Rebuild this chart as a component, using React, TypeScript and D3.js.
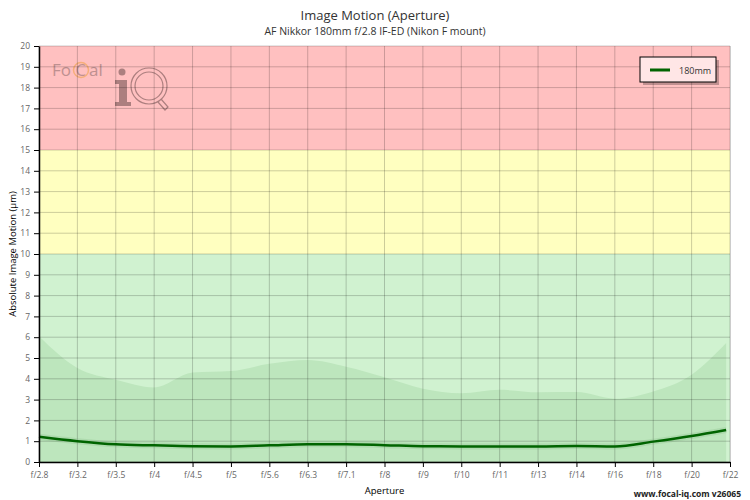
import React, { useEffect, useRef } from "react";
import * as d3 from "d3";

// tick labels along the aperture axis
const apertures = [
  "f/2.8", "f/3.2", "f/3.5", "f/4", "f/4.5", "f/5", "f/5.6", "f/6.3", "f/7.1",
  "f/8", "f/9", "f/10", "f/11", "f/13", "f/14", "f/16", "f/18", "f/20", "f/22",
];

// sample positions (aperture index) for the measured series
const samplePos = [0, 1, 2, 3, 4, 5, 6, 7, 8, 9, 10, 11, 12, 13, 14, 15, 16, 17, 17.9];

// image motion for the 180mm lens (µm)
const motion180 = [
  1.21, 1.0, 0.85, 0.8, 0.76, 0.75, 0.8, 0.85, 0.85,
  0.81, 0.76, 0.75, 0.75, 0.75, 0.77, 0.75, 0.98, 1.25, 1.54,
];

// upper envelope of comparable lenses (µm)
const envelope = [
  6.05, 4.52, 3.95, 3.58, 4.3, 4.37, 4.72, 4.9, 4.58,
  4.07, 3.52, 3.3, 3.47, 3.35, 3.36, 3.04, 3.39, 4.2, 5.72,
];

// quality zones (µm)
const zones = [
  { from: 15, to: 20, color: "#ffc0c0" },
  { from: 10, to: 15, color: "#ffffc0" },
  { from: 0, to: 10, color: "#d0f2d0" },
];

const yTicks = d3.range(0, 21);

const W = 750;
const H = 500;
const margin = { top: 46, right: 20, bottom: 38, left: 39 };
const font = "'Open Sans', sans-serif";

const App: React.FC = () => {
  const ref = useRef<SVGSVGElement>(null);

  useEffect(() => {
    const svg = d3.select(ref.current);
    svg.selectAll("*").remove();

    const x = d3
      .scaleLinear()
      .domain([0, apertures.length - 1])
      .range([margin.left, W - margin.right]);
    const y = d3
      .scaleLinear()
      .domain([0, 20])
      .range([H - margin.bottom, margin.top]);

    svg.append("rect").attr("width", W).attr("height", H).attr("fill", "#fff");

    // zones
    svg
      .append("g")
      .selectAll("rect")
      .data(zones)
      .join("rect")
      .attr("x", x(0))
      .attr("width", x(apertures.length - 1) - x(0))
      .attr("y", (d) => y(d.to))
      .attr("height", (d) => y(d.from) - y(d.to))
      .attr("fill", (d) => d.color);

    // envelope area
    const pts = samplePos.map((p, i) => ({ p, m: motion180[i], e: envelope[i] }));
    const area = d3
      .area<(typeof pts)[0]>()
      .x((d) => x(d.p))
      .y0(y(0))
      .y1((d) => y(d.e))
      .curve(d3.curveMonotoneX);
    svg.append("path").attr("d", area(pts)).attr("fill", "#bde6bd");

    // logo watermark
    const logo = svg.append("g").attr("opacity", 0.55);
    const logoText = (tx: number, s: string) =>
      logo
        .append("text")
        .attr("x", tx)
        .attr("y", 76)
        .attr("font-family", font)
        .attr("font-size", 17)
        .attr("fill", "#8a6a6a")
        .text(s);
    logoText(52, "Fo");
    logoText(75.5, "C");
    logoText(89, "al");
    logo
      .append("circle")
      .attr("cx", 81)
      .attr("cy", 70)
      .attr("r", 7.5)
      .attr("fill", "none")
      .attr("stroke", "#f0a040")
      .attr("stroke-width", 1.5);
    logo
      .append("circle")
      .attr("cx", 122)
      .attr("cy", 72)
      .attr("r", 3.5)
      .attr("fill", "#6a4a4a");
    logo
      .append("path")
      .attr("d", "M115,80 h12 v22 h4 v4 h-16 v-4 h4 v-18 h-4 z")
      .attr("fill", "#6a4a4a");
    logo
      .append("circle")
      .attr("cx", 149)
      .attr("cy", 86)
      .attr("r", 18)
      .attr("fill", "none")
      .attr("stroke", "#6a4a4a")
      .attr("stroke-width", 1.2);
    logo
      .append("circle")
      .attr("cx", 149)
      .attr("cy", 86)
      .attr("r", 14)
      .attr("fill", "none")
      .attr("stroke", "#6a4a4a")
      .attr("stroke-width", 1.2);
    logo
      .append("path")
      .attr("d", "M161,99 l7,8 l-3,3 l-7,-8")
      .attr("fill", "none")
      .attr("stroke", "#6a4a4a")
      .attr("stroke-width", 1.2);

    // grid
    const grid = svg.append("g").attr("stroke", "#000").attr("stroke-opacity", 0.2);
    grid
      .selectAll("line.h")
      .data(yTicks)
      .join("line")
      .attr("class", "h")
      .attr("x1", x(0))
      .attr("x2", x(apertures.length - 1))
      .attr("y1", (d) => y(d))
      .attr("y2", (d) => y(d));
    grid
      .selectAll("line.v")
      .data(apertures)
      .join("line")
      .attr("class", "v")
      .attr("x1", (_, i) => x(i))
      .attr("x2", (_, i) => x(i))
      .attr("y1", y(0))
      .attr("y2", y(20));

    // right border
    svg
      .append("line")
      .attr("x1", x(apertures.length - 1) + 0.5)
      .attr("x2", x(apertures.length - 1) + 0.5)
      .attr("y1", y(20))
      .attr("y2", y(0))
      .attr("stroke", "#ccc");

    // measured line
    const line = d3
      .line<(typeof pts)[0]>()
      .x((d) => x(d.p))
      .y((d) => y(d.m))
      .curve(d3.curveMonotoneX);
    svg
      .append("path")
      .attr("d", line(pts))
      .attr("fill", "none")
      .attr("stroke", "#5a9a5a")
      .attr("stroke-opacity", 0.15)
      .attr("stroke-width", 6);
    svg
      .append("path")
      .attr("d", line(pts))
      .attr("fill", "none")
      .attr("stroke", "#006400")
      .attr("stroke-width", 2.5);

    // axes
    const yAxis = svg
      .append("g")
      .attr("transform", `translate(${margin.left},0)`)
      .call(d3.axisLeft(y).tickValues(yTicks).tickSize(5).tickPadding(4).tickSizeOuter(0));
    const xAxis = svg
      .append("g")
      .attr("transform", `translate(0,${y(0)})`)
      .call(
        d3
          .axisBottom(x)
          .tickValues(d3.range(apertures.length))
          .tickFormat((i) => apertures[+i])
          .tickSize(5)
          .tickPadding(5)
          .tickSizeOuter(0)
      );
    [yAxis, xAxis].forEach((g) => {
      g.select(".domain").attr("stroke", "#000").attr("stroke-width", 1.5);
      g.selectAll(".tick line").attr("stroke", "#000");
      g.selectAll(".tick text")
        .attr("font-family", font)
        .attr("font-size", 8.5)
        .attr("fill", "#666");
    });

    // titles
    svg
      .append("text")
      .attr("x", 375)
      .attr("y", 20)
      .attr("text-anchor", "middle")
      .attr("font-family", font)
      .attr("font-size", 13)
      .attr("fill", "#333")
      .text("Image Motion (Aperture)");
    svg
      .append("text")
      .attr("x", 375)
      .attr("y", 35)
      .attr("text-anchor", "middle")
      .attr("font-family", font)
      .attr("font-size", 10.5)
      .attr("fill", "#333")
      .text("AF Nikkor 180mm f/2.8 IF-ED (Nikon F mount)");
    svg
      .append("text")
      .attr("x", (x(0) + x(apertures.length - 1)) / 2)
      .attr("y", 494)
      .attr("text-anchor", "middle")
      .attr("font-family", font)
      .attr("font-size", 9.5)
      .attr("fill", "#000")
      .text("Aperture");
    svg
      .append("text")
      .attr("transform", `translate(16,${y(10)}) rotate(-90)`)
      .attr("text-anchor", "middle")
      .attr("font-family", font)
      .attr("font-size", 9.5)
      .attr("fill", "#000")
      .text("Absolute Image Motion (µm)");
    svg
      .append("text")
      .attr("x", 741)
      .attr("y", 497)
      .attr("text-anchor", "end")
      .attr("font-family", font)
      .attr("font-size", 8.5)
      .attr("font-weight", "bold")
      .attr("fill", "#222")
      .text("www.focal-iq.com  v26065");

    // legend
    const lg = svg.append("g").attr("transform", "translate(640,57)");
    lg.append("rect")
      .attr("x", 3)
      .attr("y", 3)
      .attr("width", 76)
      .attr("height", 25)
      .attr("fill", "#000")
      .attr("opacity", 0.25);
    lg.append("rect")
      .attr("width", 76)
      .attr("height", 25)
      .attr("fill", "#ffe6e6")
      .attr("stroke", "#000")
      .attr("stroke-width", 1);
    lg.append("line")
      .attr("x1", 10)
      .attr("x2", 30)
      .attr("y1", 13)
      .attr("y2", 13)
      .attr("stroke", "#006400")
      .attr("stroke-width", 3);
    lg.append("text")
      .attr("x", 39)
      .attr("y", 16.5)
      .attr("font-family", font)
      .attr("font-size", 9)
      .attr("fill", "#333")
      .text("180mm");
  }, []);

  return (
    <svg
      ref={ref}
      width={W}
      height={H}
      style={{ position: "absolute", left: 0, top: 0 }}
    />
  );
};

export default App;
